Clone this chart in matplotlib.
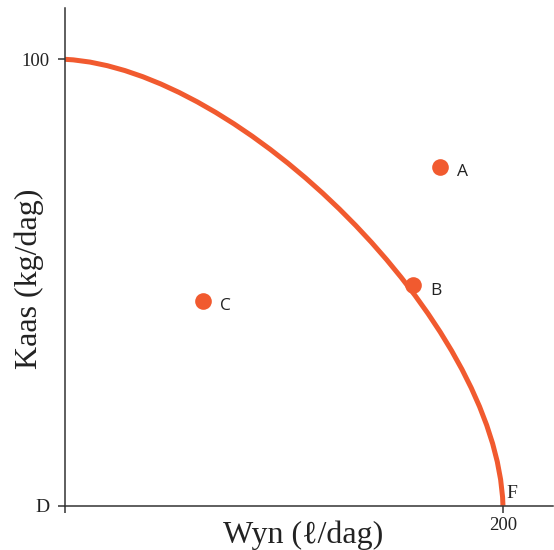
import matplotlib
matplotlib.use("Agg")
import matplotlib.pyplot as plt
from matplotlib.path import Path
from matplotlib.patches import PathPatch

# production frontier: end points and bezier handles (Wyn, Kaas)
curve_x = [0, 80, 197.5, 200]
curve_y = [100, 98, 41, 0]

# labelled points
point_names = ["A", "B", "C"]
point_x = [171.2, 159.0, 63.2]
point_y = [75.9, 49.4, 45.9]

orange = "#F15A2F"
axis_col = "#333333"
text_col = "#222222"
serif = ["Liberation Serif", "DejaVu Serif"]

fig = plt.figure(figsize=(5.54, 5.5), dpi=100)
ax = fig.add_axes([0.1173, 0.0805, 0.8807, 0.905])

frontier = Path(list(zip(curve_x, curve_y)),
                [Path.MOVETO, Path.CURVE4, Path.CURVE4, Path.CURVE4])
ax.add_patch(PathPatch(frontier, facecolor="none", edgecolor=orange, lw=3.6,
                       capstyle="butt", clip_on=False, zorder=2))

ax.plot(point_x, point_y, "o", color=orange, ms=12, mec="none",
        clip_on=False, zorder=3)
for name, px, py in zip(point_names, point_x, point_y):
    ax.annotate(name, (px, py), xytext=(12, -4), textcoords="offset points",
                fontsize=12.5, family="Open Sans", color=text_col, va="center")

ax.set_xlim(0, 222.8)
ax.set_ylim(0, 111.5)

ax.spines["top"].set_visible(False)
ax.spines["right"].set_visible(False)
for s in ["left", "bottom"]:
    ax.spines[s].set_color(axis_col)
    ax.spines[s].set_linewidth(1.1)

ax.set_xticks([0, 200])
ax.set_xticklabels(["", "200"])
ax.set_yticks([0, 100])
ax.set_yticklabels(["D", "100"])
ax.tick_params(direction="out", length=5, width=1.1, color=axis_col,
               labelcolor=text_col)
ax.tick_params(axis="y", pad=6)
ax.tick_params(axis="x", pad=3)
for lab in ax.get_xticklabels() + ax.get_yticklabels():
    lab.set_family(serif)
    lab.set_fontsize(13.5)
ax.get_yticklabels()[0].set_fontsize(14)

ax.text(201.5, 0.8, "F", fontsize=14, family=serif, color=text_col,
        ha="left", va="bottom")

ax.set_xlabel("Wyn (\u2113/dag)", fontsize=23, family=serif, color=text_col,
              va="center")
ax.xaxis.set_label_coords(0.488, -0.06)
ax.set_ylabel("Kaas (kg/dag)", fontsize=23, family=serif, color=text_col,
              va="center")
ax.yaxis.set_label_coords(-0.074, 0.455)

fig.savefig("out.png", dpi=100)
